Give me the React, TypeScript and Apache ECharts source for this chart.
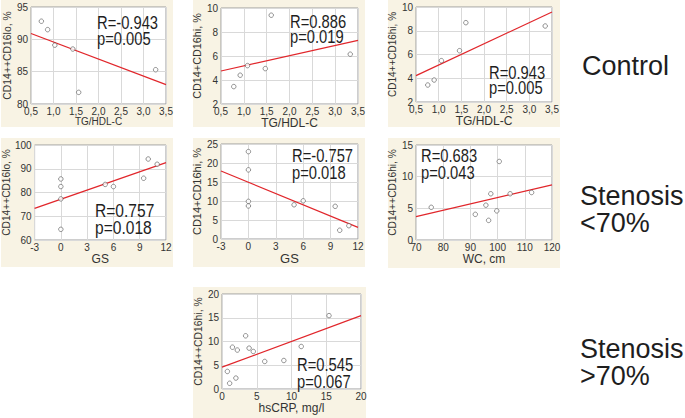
import React, { useEffect, useRef } from "react";
import * as echarts from "echarts";

// ---------- DATA ----------
// Panel 1: Control, TG/HDL-C vs CD14++CD16lo
const p1X = [0.73, 0.87, 1.03, 1.43, 1.56, 3.27];
const p1Y = [92.8, 91.5, 89.1, 88.5, 81.8, 85.3];
const p1Fit = [[0.5, 90.9], [3.5, 83.0]];
// Panel 2: Control, TG/HDL-C vs CD14+CD16hi
const p2X = [0.78, 0.92, 1.08, 1.47, 1.6, 3.33];
const p2Y = [3.45, 4.4, 5.2, 4.95, 9.4, 6.15];
const p2Fit = [[0.5, 4.75], [3.5, 7.3]];
// Panel 3: Control, TG/HDL-C vs CD14++CD16hi
const p3X = [0.76, 0.9, 1.06, 1.46, 1.6, 3.35];
const p3Y = [3.43, 3.85, 5.48, 6.32, 8.68, 8.4];
const p3Fit = [[0.5, 4.22], [3.5, 9.58]];
// Panel 4: Stenosis <70%, GS vs CD14++CD16lo
const p4X = [0, 0, 0, 0, 5.06, 6.0, 9.45, 9.97, 10.99];
const p4Y = [85.7, 82.5, 77.3, 64.5, 83.4, 82.5, 86.0, 94.1, 91.9];
const p4Fit = [[-3, 73.3], [12, 92.6]];
// Panel 5: Stenosis <70%, GS vs CD14+CD16hi
const p5X = [0, 0, 0, 0, 5.0, 6.0, 9.5, 10.0, 11.0];
const p5Y = [23.0, 18.2, 9.9, 8.7, 9.0, 10.05, 8.6, 2.3, 3.5];
const p5Fit = [[-3, 17.9], [12, 3.06]];
// Panel 6: Stenosis <70%, WC vs CD14++CD16hi
const p6X = [75.6, 91.8, 95.7, 96.7, 97.5, 99.7, 100.6, 104.6, 112.5];
const p6Y = [5.16, 4.05, 5.5, 3.1, 7.3, 4.6, 12.4, 7.3, 7.5];
const p6Fit = [[70, 3.7], [120, 8.7]];
// Panel 7: Stenosis >70%, hsCRP vs CD14++CD16hi
const p7X = [0.77, 1.1, 1.5, 2.0, 2.2, 3.4, 3.9, 4.5, 6.15, 8.9, 11.4, 15.4];
const p7Y = [3.7, 1.2, 8.8, 2.3, 8.2, 11.2, 8.6, 7.9, 5.8, 6.0, 8.95, 15.45];
const p7Fit = [[0, 4.6], [20, 15.45]];

// axis ranges [min, max, interval]
const xRanges = [[0.5, 3.5, 0.5], [0.5, 3.5, 0.5], [0.5, 3.5, 0.5], [-3, 12, 3], [-3, 12, 3], [70, 120, 10], [0, 20, 5]];
const yRanges = [[80, 95, 5], [2, 10, 2], [2, 10, 2], [60, 100, 10], [0, 25, 5], [0, 15, 5], [0, 20, 5]];
const xNames = ["TG/HDL-C", "TG/HDL-C", "TG/HDL-C", "GS", "GS", "WC, cm", "hsCRP, mg/l"];
const yNames = ["CD14++CD16lo, %", "CD14+CD16hi, %", "CD14++CD16hi, %", "CD14++CD16lo, %", "CD14+CD16hi, %", "CD14++CD16hi, %", "CD14++CD16hi, %"];
const rTexts = ["R=-0.943", "R=0.886", "R=0.943", "R=0.757", "R=-0.757", "R=0.683", "R=0.545"];
const pTexts = ["p=0.005", "p=0.019", "p=0.005", "p=0.018", "p=0.018", "p=0.043", "p=0.067"];
const groupLabels = [["Control"], ["Stenosis", "<70%"], ["Stenosis", ">70%"]];

const xsAll = [p1X, p2X, p3X, p4X, p5X, p6X, p7X];
const ysAll = [p1Y, p2Y, p3Y, p4Y, p5Y, p6Y, p7Y];
const fitsAll = [p1Fit, p2Fit, p3Fit, p4Fit, p5Fit, p6Fit, p7Fit];

// ---------- LAYOUT ----------
const layout = [
  { grid: [31, 7, 135, 97], bg: [1, 0, 172, 127], xDec: true, xNameSize: 10, xNameGap: 12, yNameSize: 10.4, yNameGap: 16, stat: [97, 22, 38, 18] },
  { grid: [221, 8, 137, 96], bg: [193, 0, 172, 127], xDec: true, xNameSize: 12, xNameGap: 11, yNameSize: 10.8, yNameGap: 14, stat: [290, 21, 36, 18] },
  { grid: [416, 7, 136, 95], bg: [388, 0, 172, 127], xDec: true, xNameSize: 12, xNameGap: 12, yNameSize: 10.0, yNameGap: 14, stat: [489, 72, 87, 18] },
  { grid: [33, 145, 133, 95], bg: [1, 138, 172, 129], xDec: false, xNameSize: 12, xNameGap: 13, yNameSize: 10.2, yNameGap: 18, stat: [95, 210, 227, 19] },
  { grid: [221, 144, 137, 95], bg: [193, 138, 172, 129], xDec: false, xNameSize: 13, xNameGap: 13, yNameSize: 11, yNameGap: 14, stat: [292, 155, 172, 18] },
  { grid: [416, 145, 136, 95], bg: [388, 138, 172, 130], xDec: false, xNameSize: 12, xNameGap: 13, yNameSize: 10.2, yNameGap: 16, stat: [421, 155, 172, 18] },
  { grid: [222, 294, 139, 95], bg: [193, 287, 173, 131], xDec: false, xNameSize: 12, xNameGap: 13, yNameSize: 10.4, yNameGap: 14, stat: [297, 364, 381, 18] },
];
const groupPos = [[582, 66], [580, 209], [580, 362]];

const NARROW = "'Liberation Sans Narrow', 'Arial Narrow', 'Liberation Sans', Arial, sans-serif";
const SANS = "'Liberation Sans', Arial, sans-serif";
const BEIGE = "#f8f3e4";
const TEXT = "#333";

function buildOption() {
  const grid: any[] = [];
  const xAxis: any[] = [];
  const yAxis: any[] = [];
  const series: any[] = [];
  const graphic: any[] = [];

  layout.forEach((L, i) => {
    graphic.push({
      type: "rect",
      z: -10,
      shape: { x: L.bg[0], y: L.bg[1], width: L.bg[2], height: L.bg[3] },
      style: { fill: BEIGE },
      silent: true,
    });
    grid.push({
      left: L.grid[0], top: L.grid[1], width: L.grid[2], height: L.grid[3],
      show: true, backgroundColor: "#ffffff", borderColor: "#9c9c9c", borderWidth: 1,
    });
    const xr = xRanges[i];
    const yr = yRanges[i];
    xAxis.push({
      gridIndex: i, type: "value", min: xr[0], max: xr[1], interval: xr[2],
      axisLine: { show: false }, axisTick: { show: false },
      splitLine: { show: true, lineStyle: { color: "#d9d9d9", width: 1 } },
      axisLabel: {
        margin: 2, fontSize: 10, color: TEXT, fontFamily: NARROW,
        showMinLabel: true, showMaxLabel: true,
        formatter: L.xDec ? (v: number) => v.toFixed(1).replace(".", ",") : (v: number) => String(v),
      },
      name: xNames[i], nameLocation: "middle", nameGap: L.xNameGap,
      nameTextStyle: { fontSize: L.xNameSize, color: TEXT, fontFamily: NARROW },
    });
    yAxis.push({
      gridIndex: i, type: "value", min: yr[0], max: yr[1], interval: yr[2],
      axisLine: { show: false }, axisTick: { show: false },
      splitLine: { show: true, lineStyle: { color: "#d9d9d9", width: 1 } },
      axisLabel: { margin: 3, fontSize: 10, color: TEXT, fontFamily: NARROW, showMinLabel: true, showMaxLabel: true },
      name: yNames[i], nameLocation: "middle", nameGap: L.yNameGap, nameRotate: 90,
      nameTextStyle: { fontSize: L.yNameSize, color: TEXT, fontFamily: SANS },
    });
    series.push({
      type: "line", xAxisIndex: i, yAxisIndex: i,
      data: fitsAll[i], showSymbol: false, symbol: "none",
      lineStyle: { color: "#e1262b", width: 1.2 }, z: 3, silent: true,
    });
    series.push({
      type: "scatter", xAxisIndex: i, yAxisIndex: i,
      data: xsAll[i].map((x, k) => [x, ysAll[i][k]]),
      symbol: "circle", symbolSize: 4.5,
      itemStyle: { color: "#ffffff", borderColor: "#555", borderWidth: 0.8 },
      z: 4, silent: true,
    });
    const s = L.stat;
    graphic.push({
      type: "text", x: s[0], y: s[1], scaleX: 0.82, z: 20,
      style: { text: rTexts[i], fill: "#1e1e1e", fontSize: s[3], fontFamily: SANS, align: "left", verticalAlign: "middle" },
    });
    graphic.push({
      type: "text", x: s[0], y: s[2], scaleX: 0.82, z: 20,
      style: { text: pTexts[i], fill: "#1e1e1e", fontSize: s[3], fontFamily: SANS, align: "left", verticalAlign: "middle" },
    });
  });

  groupLabels.forEach((lines, g) => {
    const [gx, gy] = groupPos[g];
    const lh = 27;
    const start = gy - ((lines.length - 1) * lh) / 2;
    lines.forEach((t, k) => {
      graphic.push({
        type: "text", x: gx, y: start + k * lh, z: 20,
        style: { text: t, fill: "#1e1e1e", fontSize: 27, fontFamily: SANS, align: "left", verticalAlign: "middle" },
      });
    });
  });

  return {
    animation: false,
    backgroundColor: "#ffffff",
    grid, xAxis, yAxis, series, graphic,
  };
}

export default function App() {
  const ref = useRef<HTMLDivElement>(null);
  useEffect(() => {
    if (!ref.current) return;
    const chart = echarts.init(ref.current, null, { renderer: "svg" });
    chart.setOption(buildOption() as any);
    return () => chart.dispose();
  }, []);
  return (
    <div
      ref={ref}
      style={{ position: "fixed", left: 0, top: 0, width: 685, height: 418, background: "#fff" }}
    />
  );
}
